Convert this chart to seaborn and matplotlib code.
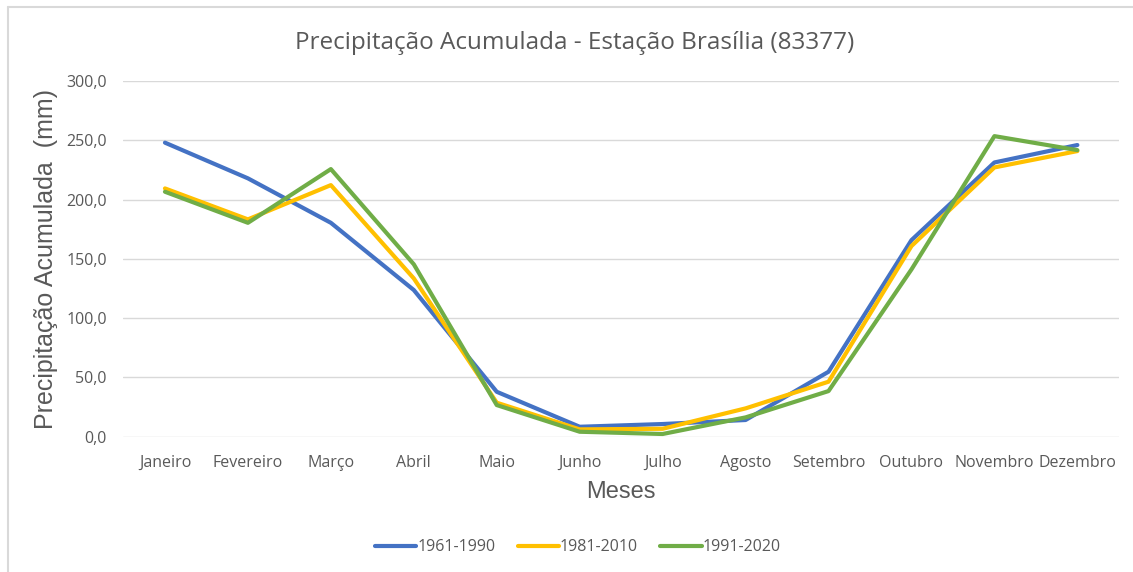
import pandas as pd
import numpy as np
import matplotlib
matplotlib.use('Agg')
import matplotlib.pyplot as plt
import seaborn as sns
from matplotlib.lines import Line2D
from matplotlib.ticker import FuncFormatter

# monthly accumulated precipitation (mm)
meses = ['Janeiro', 'Fevereiro', 'Março', 'Abril', 'Maio', 'Junho',
         'Julho', 'Agosto', 'Setembro', 'Outubro', 'Novembro', 'Dezembro']
p_1961_1990 = [248.0, 217.9, 180.4, 123.7, 37.9, 8.4, 10.7, 14.1, 54.8, 165.8, 231.3, 246.0]
p_1981_2010 = [209.4, 183.3, 212.2, 133.5, 28.7, 6.2, 6.7, 23.9, 46.4, 160.8, 227.1, 240.9]
p_1991_2020 = [206.6, 180.4, 225.7, 145.4, 26.7, 4.2, 2.3, 16.3, 38.5, 141.1, 253.5, 241.7]
periodos = ['1961-1990', '1981-2010', '1991-2020']
cores = ['#4472C4', '#FFC000', '#70AD47']

df = pd.DataFrame({
    'Mes': meses * 3,
    'Precipitacao': p_1961_1990 + p_1981_2010 + p_1991_2020,
    'Periodo': [p for p in periodos for _ in meses],
})

sns.set_style('white')
plt.rcParams['font.family'] = ['Open Sans', 'DejaVu Sans']
cinza = '#595959'

fig = plt.figure(figsize=(11.33, 5.72), dpi=100)
ax = fig.add_axes([0.109, 0.2365, 0.8785, 0.6219])

sns.lineplot(data=df, x='Mes', y='Precipitacao', hue='Periodo',
             palette=cores, hue_order=periodos, sort=False,
             linewidth=3.0, ax=ax, legend=False)

ax.set_xlim(-0.5, 11.5)
ax.set_ylim(0, 300)
ax.set_yticks(np.arange(0, 301, 50))
ax.yaxis.set_major_formatter(FuncFormatter(lambda v, _: f'{v:.1f}'.replace('.', ',')))
ax.grid(axis='y', color='#D9D9D9', linewidth=1)
ax.set_axisbelow(True)
for s in ax.spines.values():
    s.set_visible(False)
ax.tick_params(length=0, labelsize=11.5, labelcolor=cinza)
ax.tick_params(axis='y', pad=12)
ax.tick_params(axis='x', pad=13)

ax.set_xlabel('Meses', fontsize=17, color=cinza, family='Liberation Sans')
ax.set_ylabel('Precipitação Acumulada  (mm)', fontsize=18, color=cinza, family='Liberation Sans')
ax.xaxis.set_label_coords(0.5, -0.125)
ax.yaxis.set_label_coords(-0.066, 0.5)

fig.text(0.507, 0.925, 'Precipitação Acumulada - Estação Brasília (83377)',
         ha='center', va='center', fontsize=17.5, color=cinza)

handles = [Line2D([], [], color=c, linewidth=3.0, solid_capstyle='round') for c in cores]
fig.legend(handles, periodos, loc='center', bbox_to_anchor=(0.51, 0.043), ncol=3,
           frameon=False, fontsize=11.5, labelcolor=cinza, handlelength=2.6,
           handletextpad=0.05, columnspacing=1.4)

# light frame at top and left, as in the screenshot
fig.add_artist(Line2D([8 / 1133, 1], [1 - 7 / 572, 1 - 7 / 572], transform=fig.transFigure,
                      color='#D9D9D9', linewidth=1.5))
fig.add_artist(Line2D([8 / 1133, 8 / 1133], [0, 1 - 7 / 572], transform=fig.transFigure,
                      color='#D9D9D9', linewidth=1.5))

fig.savefig('out.png', dpi=100)
